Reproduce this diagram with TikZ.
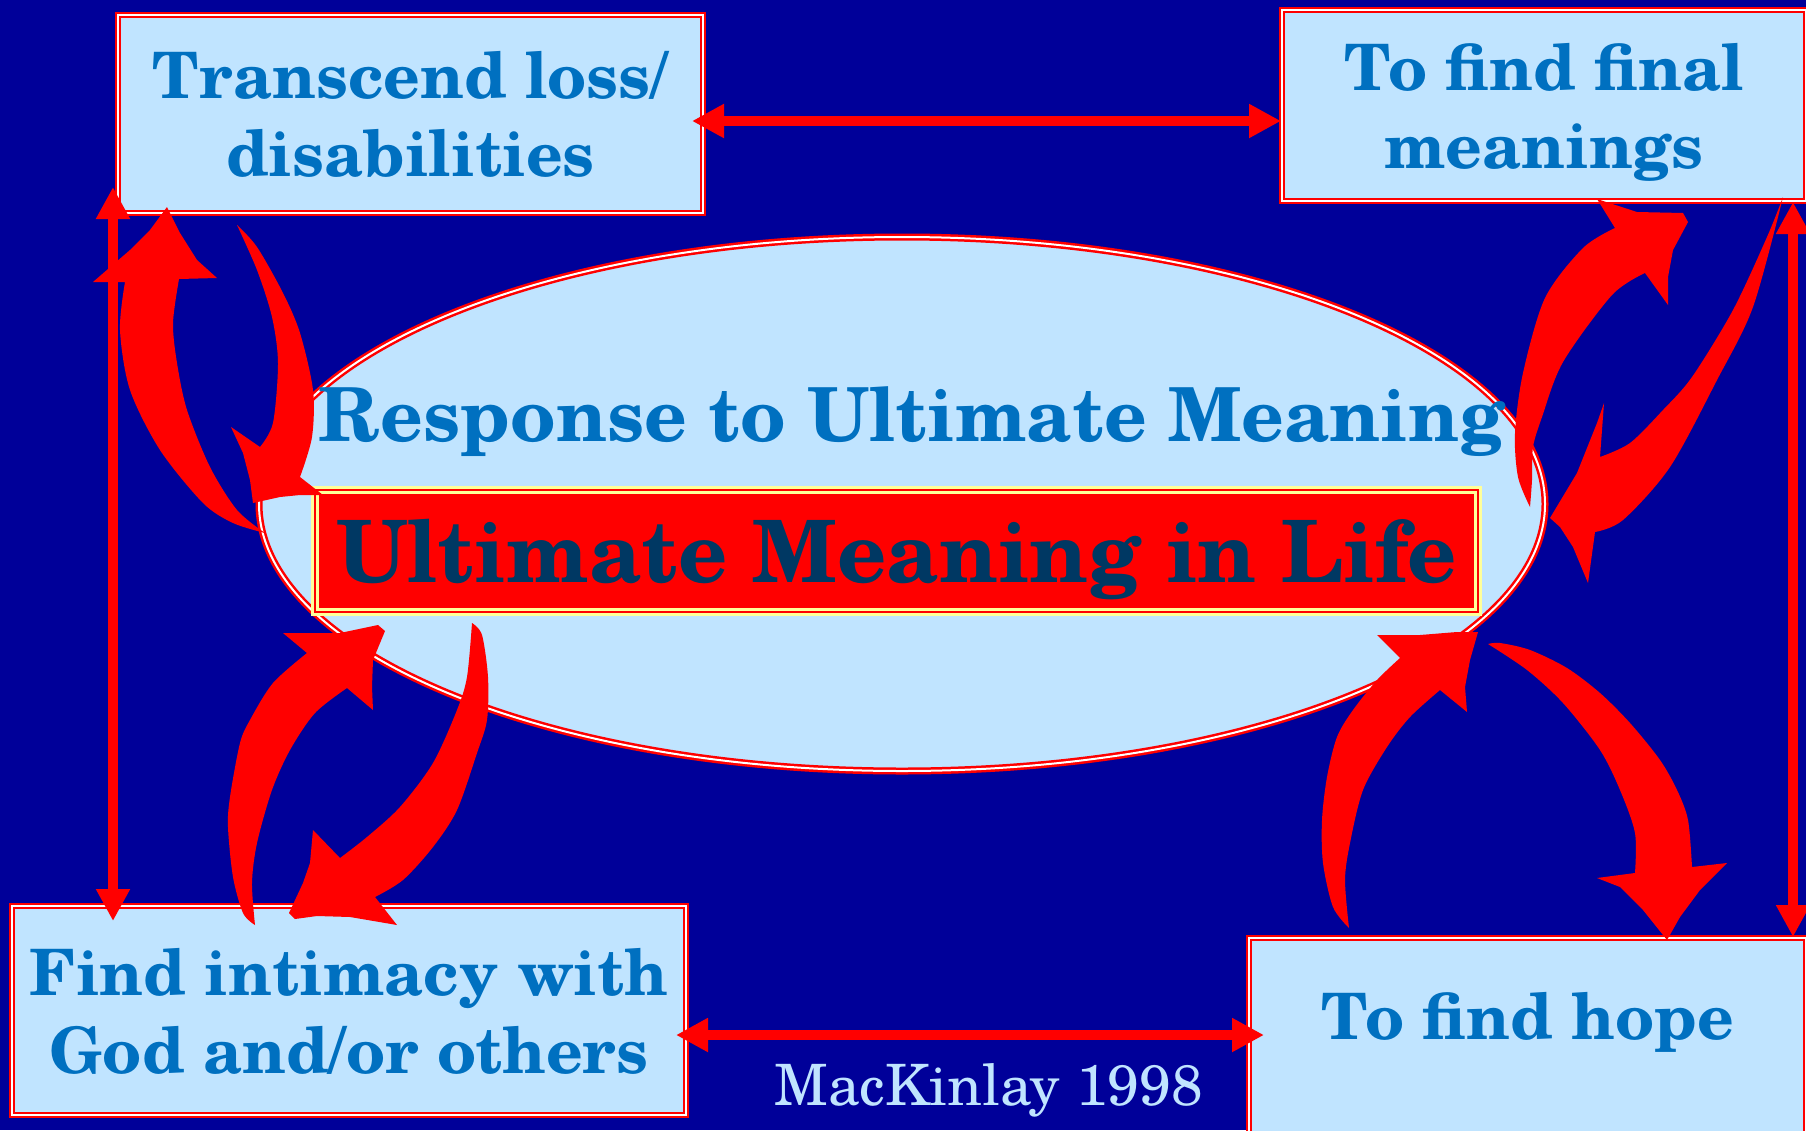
\documentclass[tikz,border=0pt]{standalone}
\usepackage{fontspec}
\setmainfont{TeX Gyre Schola}
\usetikzlibrary{arrows.meta,shapes.geometric}

\definecolor{slide}{RGB}{0,0,153}
\definecolor{pale}{RGB}{192,228,255}
\definecolor{ink}{RGB}{0,112,192}
\definecolor{deepink}{RGB}{0,56,99}
\definecolor{cream}{RGB}{255,255,153}

\begin{document}
\begin{tikzpicture}[x=1pt, y=-1pt,
    box/.style={draw=red, line width=2pt, double=white, double distance=1.5pt,
      fill=pale, text=ink, align=center, inner sep=0pt,
      font=\bfseries\fontsize{64}{78}\selectfont},
    arr/.style={{Triangle[length=32pt,width=32pt]}-{Triangle[length=32pt,width=32pt]},
      red, line width=10pt},
    curl/.style={fill=red}
  ]
  \path[use as bounding box, fill=slide] (0,0) rectangle (1806,1130);
  \clip (0,0) rectangle (1806,1130);

  % centre: ellipse with the two titles
  \node[ellipse, draw=red, line width=2.5pt, double=white, double distance=2pt,
    fill=pale, minimum width=1286pt, minimum height=534pt, inner sep=0pt] (resp) at (902,504) {};
  \node[anchor=base, text=ink, font=\bfseries\fontsize{74.5}{80}\selectfont]
    (resptitle) at (912,441) {Response to Ultimate Meaning};
  \node[draw=cream, line width=3pt, double=red, double distance=2pt, fill=red,
    minimum width=1163pt, minimum height=122pt, inner sep=0pt, text depth=0pt,
    text=deepink, font=\bfseries\fontsize{86}{90}\selectfont] (life) at (896.5,551) {Ultimate Meaning in Life};

  % corner boxes
  \node[box, minimum width=585pt, minimum height=198pt, text depth=0pt] (loss) at (410.5,114) {Transcend loss/\\disabilities};
  \node[box, minimum width=524pt, minimum height=191pt, text depth=-5pt] (final) at (1544,105.5) {To find final\\meanings};
  \node[box, minimum width=674pt, minimum height=209pt, text depth=0pt] (intimacy) at (349,1010.5) {Find intimacy with\\God and/or others};
  \node[box, minimum width=557pt, minimum height=198pt, text depth=42pt] (hope) at (1527.5,1037) {To find hope};

  \node[anchor=base, text=pale, font=\fontsize{57}{60}\selectfont] (credit) at (988.5,1105) {MacKinlay 1998};

  % curved block arrows, two per corner
  \fill[curl] plot[smooth] coordinates {(265,533) (233,523) (203,503) (160,450) (130,390) (120,330) (125,282)}
    -- (93,282) -- (130,250) -- (150,230) -- (167,207) -- (180,233) -- (197,260) -- (217,278)
    -- plot[smooth] coordinates {(179,279) (173,323) (177,363) (187,410) (210,467) (237,510) (265,533)} -- cycle;
  \fill[curl] plot[smooth] coordinates {(237,225) (257,247) (283,293) (300,333) (313,390) (312,437) (300,477)}
    -- (323,495) -- (300,495) -- (280,497) -- (253,503) -- (250,480) -- (243,453) -- (231,427)
    -- plot[smooth] coordinates {(260,447) (273,423) (278,363) (272,317) (257,270) (237,225)} -- cycle;

  \fill[curl] plot[smooth] coordinates {(1530,507) (1518,477) (1515,433) (1523,373) (1545,298) (1583,248) (1615,228)}
    -- (1597,199) -- (1637,212) -- (1683,213) -- (1688,222) -- (1673,250) -- (1668,277) -- (1668,305)
    -- plot[smooth] coordinates {(1645,273) (1612,295) (1563,362) (1542,417) (1533,447) (1532,480) (1530,507)} -- cycle;
  \fill[curl] plot[smooth] coordinates {(1783,197) (1753,307) (1717,380) (1670,467) (1623,520) (1595,532)}
    -- (1588,583) -- (1573,547) -- (1560,527) -- (1550,518) -- (1577,473) -- (1597,423) -- (1604,403)
    -- plot[smooth] coordinates {(1600,457) (1630,443) (1663,410) (1692,377) (1733,310) (1767,237) (1783,197)} -- cycle;

  \fill[curl] plot[smooth] coordinates {(255,925) (243,913) (233,877) (228,827) (230,797) (240,743) (250,720) (273,683) (307,653)}
    -- (283,633) -- (340,633) -- (378,625) -- (385,631) -- (373,660) -- (372,687) -- (373,710)
    -- plot[smooth] coordinates {(347,688) (315,713) (290,750) (272,790) (257,843) (252,883) (255,925)} -- cycle;
  \fill[curl] plot[smooth] coordinates {(472,623) (482,635) (488,677) (487,720) (477,753) (457,810) (433,847) (403,880) (375,897)}
    -- (397,925) -- (350,917) -- (317,916) -- (295,919) -- (289,913) -- (303,883) -- (310,863) -- (313,830)
    -- plot[smooth] coordinates {(340,858) (367,837) (400,807) (433,763) (457,710) (467,677) (472,623)} -- cycle;

  \fill[curl] plot[smooth] coordinates {(1349,928) (1333,907) (1323,863) (1322,820) (1327,777) (1337,737) (1353,710) (1377,680) (1400,658)}
    -- (1377,635) -- (1420,635) -- (1457,632) -- (1478,632) -- (1470,660) -- (1465,687) -- (1467,712)
    -- plot[smooth] coordinates {(1440,690) (1410,717) (1387,747) (1363,790) (1350,843) (1345,880) (1349,928)} -- cycle;
  \fill[curl] plot[smooth] coordinates {(1488,644) (1500,643) (1530,650) (1567,668) (1600,693) (1630,723) (1660,760) (1677,790) (1688,820) (1692,867)}
    -- (1727,863) -- (1700,890) -- (1680,917) -- (1667,940) -- (1643,910) -- (1620,887) -- (1597,878)
    -- plot[smooth] coordinates {(1635,873) (1635,833) (1620,790) (1600,750) (1563,703) (1527,670) (1488,644)} -- cycle;

  % straight links between the corner boxes
  \draw[arr, shorten <=-12pt] ([yshift=-7pt]loss.east) -- ([yshift=-7pt]loss.east -| final.west);
  \draw[arr, shorten <=-11pt, shorten >=-16pt] ([yshift=-24.5pt]intimacy.east) -- ([yshift=-24.5pt]intimacy.east -| hope.west);
  \draw[arr, shorten >=-16pt] ([xshift=-4pt,yshift=27pt]loss.south west) -- ([xshift=-4pt]loss.south west |- intimacy.north);
  \draw[arr] ([xshift=-14pt]final.south east) -- ([xshift=-14pt]final.south east |- hope.north);
\end{tikzpicture}
\end{document}
